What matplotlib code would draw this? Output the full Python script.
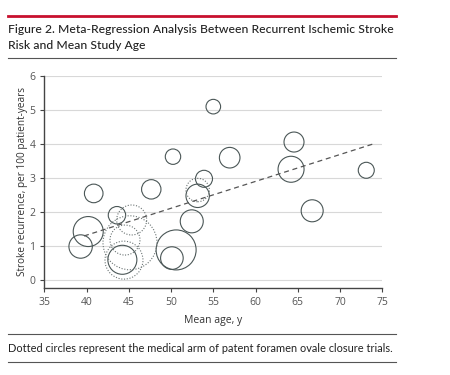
import numpy as np
import matplotlib.pyplot as plt
from matplotlib.lines import Line2D

# trials (solid circles): mean age, stroke rate, bubble radius (px, study weight)
age_solid = [39.3, 40.2, 40.85, 43.6, 47.66, 50.23, 44.24, 55.0, 56.94, 64.55,
             64.2, 73.1, 66.7, 53.9, 53.15, 52.45, 50.6, 50.1]
rate_solid = [0.99, 1.43, 2.55, 1.91, 2.67, 3.63, 0.60, 5.10, 3.60, 4.06,
              3.26, 3.23, 2.04, 2.98, 2.48, 1.73, 0.89, 0.65]
weight_solid = [11.7, 15, 9.3, 8.7, 9.7, 7.7, 14.5, 7.3, 10.3, 10,
                13, 8, 11, 8.5, 11.7, 11.5, 20, 11.3]

# medical arm of PFO closure trials (dotted circles)
age_dot = [44.43, 45.34, 45.14, 44.55, 53.15]
rate_dot = [0.59, 1.77, 1.10, 1.18, 2.65]
weight_dot = [19, 15, 27, 15, 11.7]

# meta-regression line
line_x = [39.7, 74.0]
line_y = [1.30, 4.01]

xticks = [35, 40, 45, 50, 55, 60, 65, 70, 75]
yticks = [0, 1, 2, 3, 4, 5, 6]

plt.rcParams['font.family'] = ['Open Sans', 'DejaVu Sans']

fig = plt.figure(figsize=(4.5, 3.75), dpi=100)
ax = fig.add_axes([0.0984, 0.2328, 0.7512, 0.5645])

edge = '#4a5656'
s_solid = [(1.44 * r) ** 2 for r in weight_solid]
s_dot = [(1.44 * r) ** 2 for r in weight_dot]
ax.scatter(age_solid, rate_solid, s=s_solid, facecolors='none', edgecolors=edge,
           linewidths=0.8, zorder=3)
ax.scatter(age_dot, rate_dot, s=s_dot, facecolors='none', edgecolors='#6b7474',
           linewidths=0.8, linestyles=(0, (1, 1.5)), zorder=3)
ax.plot(line_x, line_y, color='#555555', lw=0.9, ls=(0, (4, 3)), zorder=4)

ax.set_xlim(35, 75)
ax.set_ylim(-0.22, 6)
ax.set_xticks(xticks)
ax.set_yticks(yticks)
ax.yaxis.grid(True, color='#d8d8d8', lw=0.8)
ax.set_axisbelow(True)
for sp in ['top', 'right']:
    ax.spines[sp].set_visible(False)
for sp in ['left', 'bottom']:
    ax.spines[sp].set_color('#444444')
    ax.spines[sp].set_linewidth(1.0)
ax.spines['left'].set_bounds(-0.22, 6)
ax.tick_params(axis='both', colors='#444444', labelcolor='#555555', labelsize=7.5,
               length=3, width=0.8, direction='out')
ax.set_xlabel('Mean age, y', fontsize=7.5, color='#333333', labelpad=5)
ax.set_ylabel('Stroke recurrence, per 100 patient-years', fontsize=7.2,
              color='#333333', labelpad=1)

# header and footnote
hfont = ['Lato', 'DejaVu Sans']
fig.add_artist(Line2D([8 / 450, 396 / 450], [1 - 16 / 375] * 2, color='#c8102e', lw=2))
fig.text(8 / 450, 1 - 29.5 / 375, 'Figure 2. Meta-Regression Analysis Between Recurrent Ischemic Stroke',
         fontsize=8.75, color='#222222', va='center', ha='left', family=hfont, weight='medium')
fig.text(8 / 450, 1 - 45.5 / 375, 'Risk and Mean Study Age',
         fontsize=8.75, color='#222222', va='center', ha='left', family=hfont, weight='medium')
fig.add_artist(Line2D([8 / 450, 396 / 450], [1 - 58 / 375] * 2, color='#555555', lw=0.8))
fig.add_artist(Line2D([8 / 450, 396 / 450], [1 - 333.5 / 375] * 2, color='#555555', lw=0.8))
fig.text(8 / 450, 1 - 348 / 375, 'Dotted circles represent the medical arm of patent foramen ovale closure trials.',
         fontsize=7.9, color='#222222', va='center', ha='left', family=hfont)
fig.add_artist(Line2D([8 / 450, 396 / 450], [1 - 362 / 375] * 2, color='#555555', lw=0.8))

fig.savefig('out.png', dpi=100)
